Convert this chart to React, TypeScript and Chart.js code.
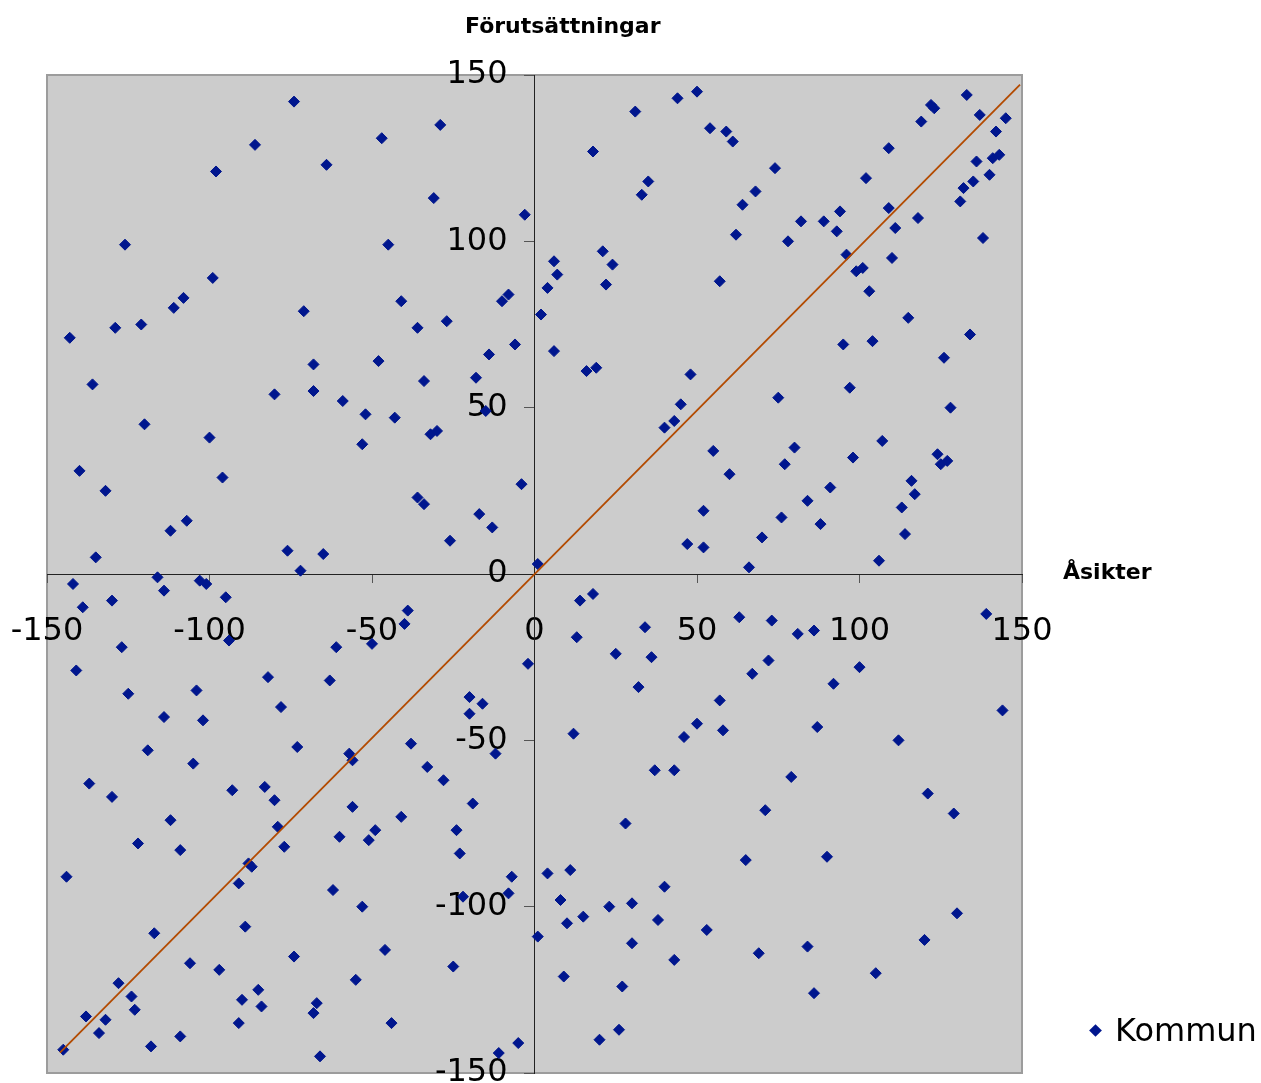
import React, { useEffect, useRef } from "react";
import { Chart, registerables } from "chart.js";

Chart.register(...registerables);

const CHART_TITLE = "Förutsättningar";
const X_AXIS_TITLE = "Åsikter";
const SERIES_LABEL = "Kommun";

const AXIS_MIN = -150;
const AXIS_MAX = 150;
const AXIS_STEP = 50;

// Åsikter (x) values of each Kommun point
const asikter: number[] = [
  -74, -86, -98, -64, -126, -99, -108, -111, -121, -129, -143, -71, -68, -136, -80, -68, -59,
  -47, -29, -31, -3, -45, -41, -36, -27, -10, -8, -48, -34, -18, -14, -6, -15,
  50, 44, 31, 18, 35, 33, 6, 7, 4, 2, 21, 24, 22, 6, 16, 19, 48, 45,
  54, 59, 61, 74, 68, 64, 62, 57, 82, 78, 89, 94, 93, 102, 109, 119, 122, 123, 133, 137, 145,
  142, 136, 141, 143, 140, 135, 132, 131, 109, 111, 118, 138, 96, 99, 101, 110, 103, 115, 134,
  95, 104, 126, 97, 75, 128,
  -120, -100, -140, -132, -96, -107, -112, -135, -76, -65, -72, -52, -53,
  -142, -116, -103, -101, -114, -130, -139, -95, -94, -127, -61, -50, -141, -82, -63, -125,
  -104, -78, -114, -102, -73,
  -43, -32, -30, -36, -34, -17, -13, -26, -4, 1, 40, 43, 52, 47, 52,
  -39, -40, -2, -20, -16, -20, -38, 14, 18, 13, 25, 34, 36, 32, 12, 46, 50,
  55, 60, 77, 80, 98, 107, 124, 125, 127, 116, 117, 113, 114, 91, 84, 76, 88, 70, 66, 106,
  63, 73, 81, 86, 139, 72, 67, 100, 92, 57, 58, 87, 144, 112,
  -119, -105, -137, -130, -93, -83, -80, -57, -56, -112, -122, -109, -79, -77, -56, -60, -51,
  -49, -88, -87, -91, -144, -62, -53, -89, -117, -74, -106, -97, -55, -128, -124, -123, -85,
  -90, -84, -67, -68, -138, -132, -134, -91, -109, -118, -145, -66,
  -12, -33, -28, -19, -41, -24, -23, -7, -8, -22, -46, -25, -44, -5, -11,
  37, 43, 28, 4, 11, 40, 8, 23, 30, 10, 15, 38, 1, 30, 43, 9, 27, 26, 20,
  79, 71, 121, 129, 65, 90, 53, 69, 84, 105, 120, 130, 86,
];

// Förutsättningar (y) values of each Kommun point
const forutsattningar: number[] = [
  142, 129, 121, 123, 99, 89, 83, 80, 75, 74, 71, 79, 63, 57, 54, 55, 52,
  131, 135, 113, 108, 99, 82, 74, 76, 82, 84, 64, 58, 59, 66, 69, 49,
  145, 143, 139, 127, 118, 114, 94, 90, 86, 78, 97, 93, 87, 67, 61, 62, 60, 51,
  134, 133, 130, 122, 115, 111, 102, 88, 106, 100, 106, 109, 103, 119, 128, 136, 141, 140, 144, 138, 137,
  133, 124, 125, 126, 120, 118, 116, 112, 110, 104, 107, 101, 96, 91, 92, 95, 85, 77, 72,
  69, 70, 65, 56, 53, 50,
  45, 41, 31, 25, 29, 16, 13, 5, 7, 6, 1, 48, 39,
  -3, -1, -2, -3, -5, -8, -10, -7, -20, -22, -22, -21, -29, -31, -32, -36,
  -35, -40, -43, -44, -52,
  47, 42, 43, 23, 21, 18, 14, 10, 27, 3, 44, 46, 19, 9, 8,
  -11, -15, -27, -37, -39, -42, -51, -8, -6, -19, -24, -16, -25, -34, -48, -49, -45,
  37, 30, 33, 38, 35, 40, 36, 33, 34, 28, 24, 20, 12, 26, 22, 17, 15, 11, 2, 4,
  -13, -14, -18, -17, -12, -26, -30, -28, -33, -38, -47, -46, -41, -50,
  -53, -57, -63, -67, -65, -64, -68, -54, -56, -74, -81, -83, -76, -82, -70, -79, -80,
  -77, -87, -88, -93, -91, -95, -100, -106, -108, -115, -117, -119, -122, -123, -127, -131, -125,
  -128, -130, -129, -132, -133, -134, -138, -135, -139, -142, -143, -145,
  -54, -58, -62, -69, -73, -77, -84, -91, -96, -97, -113, -118, -135, -141, -144,
  -59, -59, -75, -90, -89, -94, -98, -100, -99, -105, -103, -104, -109, -111, -116, -121, -124, -137, -140,
  -61, -71, -66, -72, -86, -85, -107, -114, -112, -120, -110, -102, -126,
];

// Trend line end points
const trendX: number[] = [-146, 149.4];
const trendY: number[] = [-143.9, 147.1];

const FONT_FAMILY = '"DejaVu Sans", Verdana, sans-serif';
const POINT_COLOR = "#00168E";
const TREND_COLOR = "#B34A00";

const plotBackground = {
  id: "plotBackground",
  beforeDraw(chart: any) {
    const { ctx, chartArea } = chart;
    const { left, top, right, bottom } = chartArea;
    ctx.save();
    ctx.fillStyle = "#CCCCCC";
    ctx.fillRect(left, top, right - left, bottom - top);
    ctx.strokeStyle = "#9C9C9C";
    ctx.lineWidth = 2;
    ctx.strokeRect(left, top, right - left, bottom - top);
    ctx.restore();
  },
};

const noLayoutSpace = (scale: any) => {
  scale.width = scale.isHorizontal() ? scale.width : 0;
  scale.height = scale.isHorizontal() ? 0 : scale.height;
  scale.paddingLeft = 0;
  scale.paddingRight = 0;
  scale.paddingTop = 0;
  scale.paddingBottom = 0;
};

export default function App() {
  const canvasRef = useRef<HTMLCanvasElement | null>(null);

  useEffect(() => {
    if (!canvasRef.current) return;
    const points = asikter.map((x, i) => ({ x, y: forutsattningar[i] }));
    const trend = trendX.map((x, i) => ({ x, y: trendY[i] }));

    const chart = new Chart(canvasRef.current, {
      type: "scatter",
      data: {
        datasets: [
          {
            type: "line",
            label: "Trend",
            data: trend,
            borderColor: TREND_COLOR,
            borderWidth: 1.8,
            pointRadius: 0,
            showLine: true,
            fill: false,
            order: 0,
          } as any,
          {
            label: SERIES_LABEL,
            data: points,
            pointStyle: "rectRot",
            pointRadius: 5.5,
            pointBorderWidth: 1,
            backgroundColor: POINT_COLOR,
            borderColor: POINT_COLOR,
            order: 1,
          },
        ],
      },
      options: {
        responsive: false,
        animation: false,
        devicePixelRatio: 1,
        layout: { padding: { left: 47, top: 75, right: 239, bottom: 10 } },
        plugins: {
          legend: { display: false },
          tooltip: { enabled: false },
          title: { display: false },
        },
        scales: {
          x: {
            type: "linear",
            position: "center",
            min: AXIS_MIN,
            max: AXIS_MAX,
            ticks: {
              stepSize: AXIS_STEP,
              autoSkip: false,
              maxRotation: 0,
              padding: 30,
              color: "#000",
              font: { family: FONT_FAMILY, size: 32 },
            },
            grid: {
              drawOnChartArea: false,
              drawTicks: true,
              tickLength: 8,
              color: "#555",
            },
            border: { display: true, color: "#222", width: 1 },
            afterFit: noLayoutSpace,
          },
          y: {
            type: "linear",
            position: "center",
            min: AXIS_MIN,
            max: AXIS_MAX,
            ticks: {
              stepSize: AXIS_STEP,
              autoSkip: false,
              padding: 17,
              color: "#000",
              font: { family: FONT_FAMILY, size: 32 },
            },
            grid: {
              drawOnChartArea: false,
              drawTicks: true,
              tickLength: 10,
              color: "#555",
            },
            border: { display: true, color: "#222", width: 1 },
            afterFit: noLayoutSpace,
          },
        },
      },
      plugins: [plotBackground],
    });
    return () => chart.destroy();
  }, []);

  return (
    <div style={{ position: "absolute", left: 0, top: 0, width: 1261, height: 1083, background: "#fff", overflow: "hidden" }}>
      <canvas ref={canvasRef} width={1261} height={1083} style={{ width: 1261, height: 1083, display: "block" }} />
      <div style={{ position: "absolute", left: 465, top: 12, font: `bold 22px ${FONT_FAMILY}`, lineHeight: "28px", whiteSpace: "nowrap", color: "#000" }}>
        {CHART_TITLE}
      </div>
      <div style={{ position: "absolute", left: 1063, top: 558, font: `bold 22px ${FONT_FAMILY}`, lineHeight: "28px", whiteSpace: "nowrap", color: "#000" }}>
        {X_AXIS_TITLE}
      </div>
      <div style={{ position: "absolute", left: 1090.5, top: 1025.5, width: 9, height: 9, background: POINT_COLOR, transform: "rotate(45deg)" }} />
      <div style={{ position: "absolute", left: 1115, top: 1011, font: `32px ${FONT_FAMILY}`, lineHeight: "38px", whiteSpace: "nowrap", color: "#000" }}>
        {SERIES_LABEL}
      </div>
    </div>
  );
}
